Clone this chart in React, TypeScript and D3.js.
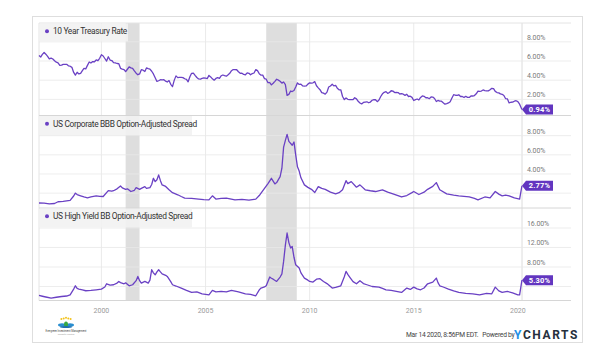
import * as d3 from "d3";

// 10 Year Treasury, monthly averages from Jan 1997, then the last print
const treasuryStart = "1997-01";
const treasuryMonthly = [
  6.58, 6.42, 6.69, 6.89, 6.71, 6.49, 6.22, 6.3, 6.21, 6.03, 5.88, 5.81,
  5.54, 5.57, 5.65, 5.64, 5.65, 5.5, 5.46, 5.34, 4.81, 4.53, 4.83, 4.65,
  4.72, 5.0, 5.23, 5.18, 5.54, 5.9, 5.79, 5.94, 5.92, 6.11, 6.03, 6.28,
  6.66, 6.52, 6.26, 5.99, 6.44, 6.1, 6.05, 5.83, 5.8, 5.74, 5.72, 5.24,
  5.16, 5.1, 4.89, 5.14, 5.39, 5.28, 5.24, 4.97, 4.73, 4.57, 4.65, 5.09,
  5.04, 4.91, 5.28, 5.21, 5.16, 4.93, 4.65, 4.26, 3.87, 3.94, 4.05, 4.03,
  4.05, 3.9, 3.81, 3.96, 3.57, 3.33, 3.98, 4.45, 4.27, 4.29, 4.3, 4.27,
  4.15, 4.08, 3.83, 4.35, 4.72, 4.73, 4.5, 4.28, 4.13, 4.1, 4.19, 4.23,
  4.22, 4.17, 4.5, 4.34, 4.14, 4.0, 4.18, 4.26, 4.2, 4.46, 4.54, 4.47,
  4.42, 4.57, 4.72, 4.99, 5.11, 5.11, 5.09, 4.88, 4.72, 4.73, 4.6, 4.56,
  4.76, 4.72, 4.56, 4.69, 4.75, 5.1, 5.0, 4.67, 4.52, 4.53, 4.15, 4.1,
  3.74, 3.74, 3.51, 3.68, 3.88, 4.1, 4.01, 3.89, 3.69, 3.81, 3.53, 2.42,
  2.52, 2.87, 2.82, 2.93, 3.29, 3.72, 3.56, 3.59, 3.4, 3.39, 3.4, 3.59,
  3.73, 3.69, 3.73, 3.85, 3.42, 3.2, 3.01, 2.7, 2.65, 2.54, 2.76, 3.29,
  3.39, 3.58, 3.41, 3.46, 3.17, 3.0, 3.0, 2.3, 1.98, 2.15, 2.01, 1.98,
  1.97, 1.97, 2.17, 2.05, 1.8, 1.62, 1.53, 1.68, 1.72, 1.75, 1.65, 1.72,
  1.91, 1.98, 1.96, 1.76, 1.93, 2.3, 2.58, 2.74, 2.81, 2.62, 2.72, 2.9,
  2.86, 2.71, 2.72, 2.71, 2.56, 2.6, 2.54, 2.42, 2.53, 2.3, 2.33, 2.21,
  1.88, 1.98, 2.04, 1.94, 2.2, 2.36, 2.32, 2.17, 2.17, 2.07, 2.26, 2.24,
  2.09, 1.78, 1.89, 1.81, 1.81, 1.64, 1.5, 1.56, 1.63, 1.76, 2.14, 2.49,
  2.43, 2.42, 2.48, 2.3, 2.3, 2.19, 2.32, 2.21, 2.2, 2.36, 2.35, 2.4,
  2.58, 2.86, 2.84, 2.87, 2.98, 2.91, 2.89, 2.89, 3.0, 3.15, 3.12, 2.83,
  2.71, 2.68, 2.57, 2.53, 2.4, 2.07, 2.06, 1.63, 1.7, 1.71, 1.81, 1.86,
  1.76, 1.5,
];
const treasuryLast: [string, number] = ["2020-03-13", 0.94];

const bbbSpread: [string, number][] = [
  ["1997-01", 0.97], ["1997-04", 0.95], ["1997-07", 0.87], ["1997-10", 0.92], ["1997-12", 1.1],
  ["1998-03", 1.15], ["1998-07", 1.24], ["1998-09", 1.7], ["1998-10", 2.0], ["1998-11", 1.85],
  ["1999-01", 1.72], ["1999-03", 1.6], ["1999-05", 1.5], ["1999-07", 1.6], ["1999-10", 1.72],
  ["1999-12", 1.66], ["2000-02", 1.65], ["2000-05", 2.27], ["2000-07", 2.2], ["2000-08", 2.25],
  ["2000-10", 2.45], ["2000-12", 2.75], ["2001-01", 2.55], ["2001-03", 2.4], ["2001-04", 2.45],
  ["2001-06", 2.17], ["2001-08", 2.3], ["2001-09", 2.58], ["2001-11", 2.4], ["2001-12", 2.5],
  ["2002-02", 2.68], ["2002-03", 2.5], ["2002-05", 2.58], ["2002-06", 2.9], ["2002-07", 3.55],
  ["2002-08", 3.2], ["2002-09", 3.4], ["2002-10", 3.9], ["2002-11", 3.3], ["2002-12", 2.86],
  ["2003-02", 2.7], ["2003-04", 2.35], ["2003-06", 2.05], ["2003-09", 1.83], ["2003-11", 1.65],
  ["2004-01", 1.49], ["2004-05", 1.45], ["2004-09", 1.38], ["2004-12", 1.32], ["2005-03", 1.3],
  ["2005-05", 1.72], ["2005-07", 1.38], ["2005-10", 1.45], ["2006-01", 1.49], ["2006-06", 1.3],
  ["2006-10", 1.35], ["2007-02", 1.28], ["2007-06", 1.38], ["2007-08", 1.75], ["2007-09", 2.0],
  ["2007-11", 2.5], ["2008-01", 3.0], ["2008-03", 3.55], ["2008-05", 2.96], ["2008-06", 3.1],
  ["2008-08", 3.72], ["2008-09", 4.6], ["2008-10", 6.8], ["2008-11", 7.5], ["2008-12", 8.13],
  ["2009-01", 7.4], ["2009-03", 7.0], ["2009-04", 7.34], ["2009-05", 6.0], ["2009-06", 4.75],
  ["2009-07", 4.3], ["2009-08", 3.6], ["2009-10", 2.86], ["2009-12", 2.6], ["2010-02", 2.4],
  ["2010-04", 2.07], ["2010-06", 2.68], ["2010-08", 2.5], ["2010-10", 2.4], ["2011-01", 2.1],
  ["2011-04", 1.93], ["2011-06", 2.05], ["2011-08", 2.35], ["2011-10", 3.3], ["2011-11", 3.0],
  ["2012-01", 3.2], ["2012-04", 2.62], ["2012-06", 2.86], ["2012-09", 2.35], ["2012-12", 2.25],
  ["2013-03", 2.17], ["2013-07", 2.35], ["2013-10", 2.1], ["2014-01", 1.93], ["2014-06", 1.6],
  ["2014-09", 1.75], ["2014-12", 2.05], ["2015-01", 2.17], ["2015-04", 1.86], ["2015-07", 2.1],
  ["2015-09", 2.4], ["2015-12", 2.7], ["2016-02", 3.1], ["2016-04", 2.35], ["2016-08", 1.93],
  ["2016-12", 1.8], ["2017-03", 1.72], ["2017-09", 1.6], ["2017-12", 1.45], ["2018-02", 1.3],
  ["2018-06", 1.6], ["2018-09", 1.5], ["2018-12", 2.17], ["2019-02", 1.9], ["2019-04", 1.72],
  ["2019-06", 1.8], ["2019-08", 1.72], ["2019-11", 1.5], ["2020-02", 1.38], ["2020-03-13", 2.77],
];

const hyBbSpread: [string, number][] = [
  ["1997-01", 2.16], ["1997-03", 2.0], ["1997-05", 1.85], ["1997-08", 1.63], ["1997-11", 1.8],
  ["1998-02", 1.95], ["1998-05", 2.05], ["1998-07", 2.3], ["1998-09", 3.47], ["1998-10", 4.15],
  ["1998-11", 3.6], ["1998-12", 3.47], ["1999-02", 3.3], ["1999-04", 3.13], ["1999-07", 3.2],
  ["1999-10", 3.33], ["2000-01", 3.47], ["2000-03", 3.9], ["2000-04", 4.56], ["2000-06", 4.3],
  ["2000-08", 4.36], ["2000-10", 4.7], ["2000-11", 5.04], ["2000-12", 4.8], ["2001-02", 4.56],
  ["2001-03", 4.75], ["2001-05", 4.15], ["2001-07", 4.36], ["2001-09", 5.2], ["2001-10", 6.06],
  ["2001-11", 5.2], ["2001-12", 4.7], ["2002-02", 5.04], ["2002-04", 4.7], ["2002-05", 5.3],
  ["2002-06", 7.44], ["2002-07", 6.8], ["2002-08", 6.4], ["2002-09", 7.0], ["2002-10", 7.44],
  ["2002-11", 7.0], ["2002-12", 6.6], ["2003-02", 6.3], ["2003-03", 6.06], ["2003-05", 5.0],
  ["2003-06", 4.36], ["2003-08", 4.1], ["2003-11", 3.68], ["2004-02", 3.2], ["2004-05", 2.78],
  ["2004-08", 2.9], ["2004-11", 2.5], ["2005-01", 2.4], ["2005-03", 2.3], ["2005-05", 3.2],
  ["2005-07", 2.9], ["2005-10", 3.0], ["2006-01", 2.9], ["2006-04", 3.2], ["2006-08", 2.9],
  ["2006-12", 2.5], ["2007-03", 2.4], ["2007-06", 2.1], ["2007-08", 3.3], ["2007-09", 3.68],
  ["2007-11", 3.9], ["2007-12", 4.15], ["2008-02", 5.94], ["2008-03", 5.7], ["2008-04", 5.5],
  ["2008-06", 5.04], ["2008-08", 5.94], ["2008-09", 6.6], ["2008-10", 9.15], ["2008-11", 12.5],
  ["2008-12", 14.97], ["2009-01", 13.0], ["2009-02", 11.9], ["2009-03", 12.2], ["2009-04", 10.0],
  ["2009-05", 8.46], ["2009-07", 7.8], ["2009-08", 6.8], ["2009-10", 5.73], ["2009-12", 5.3],
  ["2010-01", 5.04], ["2010-03", 4.9], ["2010-05", 5.5], ["2010-07", 5.6], ["2010-09", 5.04],
  ["2010-11", 4.6], ["2011-02", 3.68], ["2011-04", 3.8], ["2011-07", 4.15], ["2011-09", 6.0],
  ["2011-10", 7.1], ["2011-11", 6.5], ["2011-12", 6.0], ["2012-02", 5.0], ["2012-04", 4.56],
  ["2012-06", 5.2], ["2012-08", 4.6], ["2012-10", 4.36], ["2013-01", 4.0], ["2013-05", 3.88],
  ["2013-07", 3.6], ["2013-09", 3.33], ["2013-12", 3.2], ["2014-03", 3.0], ["2014-06", 2.78],
  ["2014-09", 3.68], ["2014-11", 3.4], ["2015-01", 3.88], ["2015-03", 3.5], ["2015-05", 3.33],
  ["2015-07", 3.7], ["2015-09", 4.56], ["2015-12", 4.9], ["2016-02", 5.73], ["2016-03", 4.8],
  ["2016-04", 4.15], ["2016-06", 3.9], ["2016-09", 3.47], ["2016-12", 3.1], ["2017-03", 2.78],
  ["2017-07", 2.6], ["2017-11", 2.5], ["2018-03", 2.3], ["2018-07", 2.6], ["2018-10", 2.5],
  ["2018-12", 3.88], ["2019-02", 3.1], ["2019-04", 2.78], ["2019-07", 3.0], ["2019-10", 2.7],
  ["2020-01", 2.3], ["2020-02", 2.3], ["2020-03-13", 5.3],
];

const recessions: [string, string][] = [
  ["2001-03-01", "2001-10-31"],
  ["2007-12-01", "2009-05-20"],
];

const seriesNames = [
  "10 Year Treasury Rate",
  "US Corporate BBB Option-Adjusted Spread",
  "US High Yield BB Option-Adjusted Spread",
];
const yDomains: [number, number][] = [
  [0.32, 9.96],
  [0.45, 10.1],
  [1.13, 20.1],
];
const yTicks = [
  [2, 4, 6, 8],
  [2, 4, 6, 8],
  [4, 8, 12, 16],
];
const yearTicks = [2000, 2005, 2010, 2015, 2020];
const stamp = "Mar 14 2020, 8:56PM EDT.";

const W = 598;
const H = 353;
const LEFT = 39;
const RIGHT = 522;
const GRID_RIGHT = 571;
const TOP = 23;
const PANEL_H = 92.5;
const PURPLE = "#6a41c4";
const FONT = "Roboto, 'Noto Sans', sans-serif";

const parse = (s: string) =>
  s.length > 7 ? d3.timeParse("%Y-%m-%d")(s)! : d3.timeParse("%Y-%m")(s)!;

const treasury: [Date, number][] = [
  ...treasuryMonthly.map(
    (v, i) => [d3.timeMonth.offset(parse(treasuryStart), i), v] as [Date, number]
  ),
  [parse(treasuryLast[0]), treasuryLast[1]],
];
const allSeries: [Date, number][][] = [
  treasury,
  bbbSpread.map(([d, v]) => [parse(d), v] as [Date, number]),
  hyBbSpread.map(([d, v]) => [parse(d), v] as [Date, number]),
];

export default function App() {
  const x = d3
    .scaleTime()
    .domain([new Date(1997, 0, 1), new Date(2020, 2, 14)])
    .range([LEFT, RIGHT]);
  const bottom = TOP + PANEL_H * 3;

  return (
    <svg
      width={W}
      height={H}
      style={{ position: "absolute", left: 0, top: 0, background: "#fff" }}
      fontFamily={FONT}
    >
      <rect x={32.5} y={16.5} width={550} height={326} fill="#fff" stroke="#dedede" />

      {/* recession shading */}
      {recessions.map(([a, b], i) => (
        <rect
          key={i}
          x={x(parse(a))}
          y={TOP}
          width={x(parse(b)) - x(parse(a))}
          height={bottom - TOP}
          fill="#dedede"
        />
      ))}

      {/* vertical year grid */}
      {yearTicks.slice(0, -1).map((yr) => (
        <line
          key={yr}
          x1={x(new Date(yr, 0, 1))}
          x2={x(new Date(yr, 0, 1))}
          y1={TOP}
          y2={bottom}
          stroke="#e4e4e4"
          strokeWidth={0.8}
        />
      ))}
      <line x1={LEFT} x2={LEFT} y1={TOP} y2={bottom} stroke="#e4e4e4" />
      <line x1={RIGHT} x2={RIGHT} y1={TOP} y2={bottom} stroke="#dcdcdc" />

      {allSeries.map((data, p) => {
        const top = TOP + p * PANEL_H;
        const y = d3.scaleLinear().domain(yDomains[p]).range([top + PANEL_H, top]);
        const line = d3
          .line<[Date, number]>()
          .x((d) => x(d[0]))
          .y((d) => y(d[1]));
        const last = data[data.length - 1];
        const ly = y(last[1]);
        const label = `${last[1].toFixed(2)}%`;
        const name = seriesNames[p];
        const boxW = 14 + name.length * 3.55;
        return (
          <g key={p}>
            {p === 0 && (
              <line x1={LEFT} x2={GRID_RIGHT} y1={top} y2={top} stroke="#e4e4e4" />
            )}
            {yTicks[p].map((t) => (
              <line
                key={t}
                x1={LEFT}
                x2={GRID_RIGHT}
                y1={y(t)}
                y2={y(t)}
                stroke="#e8e8e8"
                strokeWidth={0.8}
              />
            ))}
            <line
              x1={LEFT}
              x2={GRID_RIGHT}
              y1={top + PANEL_H}
              y2={top + PANEL_H}
              stroke="#d6d6d6"
            />
            {yTicks[p]
              .filter((t) => Math.abs(y(t) - 2 - ly) > 9)
              .map((t) => (
                <text
                  key={t}
                  x={527}
                  y={y(t) - 2}
                  fontSize={7}
                  fill="#7a7a7a"
                  letterSpacing={-0.1}
                >
                  {`${t.toFixed(2)}%`}
                </text>
              ))}
            <rect
              x={LEFT + 0.5}
              y={top + 0.5}
              width={boxW}
              height={y(yTicks[p][yTicks[p].length - 1]) - top - 1}
              fill="#f2f2f2"
              opacity={0.9}
            />
            <circle cx={47} cy={top + 8.3} r={2} fill={PURPLE} />
            <text
              x={53}
              y={top + 11.2}
              fontSize={8.4}
              fill="#333"
              letterSpacing={-0.35}
            >
              {name}
            </text>
            <path
              d={line(data) ?? ""}
              fill="none"
              stroke={PURPLE}
              strokeWidth={1.3}
              strokeLinejoin="round"
            />
            <path
              d={`M${RIGHT},${ly} L${RIGHT + 4},${ly - 5} H${RIGHT + 31} V${ly + 5} H${RIGHT + 4} Z`}
              fill="#6236c0"
            />
            <text
              x={RIGHT + 17.5}
              y={ly + 2.7}
              fontSize={7.5}
              fontWeight={700}
              fill="#fff"
              textAnchor="middle"
              letterSpacing={0.2}
            >
              {label}
            </text>
          </g>
        );
      })}

      {/* x axis labels */}
      {yearTicks.map((yr) => (
        <text
          key={yr}
          x={x(new Date(yr, 0, 1))}
          y={312.5}
          fontSize={7}
          fill="#9a9a9a"
          textAnchor="middle"
        >
          {yr}
        </text>
      ))}

      {/* logo */}
      <g>
        {[0, 1, 2, 3, 4].map((i) => (
          <circle
            key={i}
            cx={61.4 + i * 2.3}
            cy={319 - (i === 2 ? 1.2 : i === 1 || i === 3 ? 0.6 : 0)}
            r={1}
            fill="#f2c21b"
          />
        ))}
        <ellipse cx={62} cy={325} rx={4} ry={1.8} fill="#2a8ed0" />
        <ellipse cx={70} cy={325} rx={4} ry={1.8} fill="#2a8ed0" />
        <ellipse cx={66} cy={324.5} rx={2} ry={3} fill="#39a844" />
        <ellipse cx={66} cy={327} rx={6} ry={1} fill="#1f6fae" />
        <text x={66} y={331.8} fontSize={2.6} fill="#444" textAnchor="middle">
          Evergreen Investment Management
        </text>
        <text x={66} y={334.8} fontSize={1.8} fill="#999" textAnchor="middle">
          Thoughtful Investing
        </text>
      </g>

      {/* footer */}
      <text x={406} y={337} fontSize={6.7} fill="#444" letterSpacing={-0.25}>
        {stamp}
        <tspan dx={4}>Powered by</tspan>
      </text>
      <text x={514} y={338.8} fontSize={12} fontWeight={700} letterSpacing={1.6}>
        <tspan fill="#1e8fe6">Y</tspan>
        <tspan fill="#25303d">CHARTS</tspan>
      </text>
    </svg>
  );
}
